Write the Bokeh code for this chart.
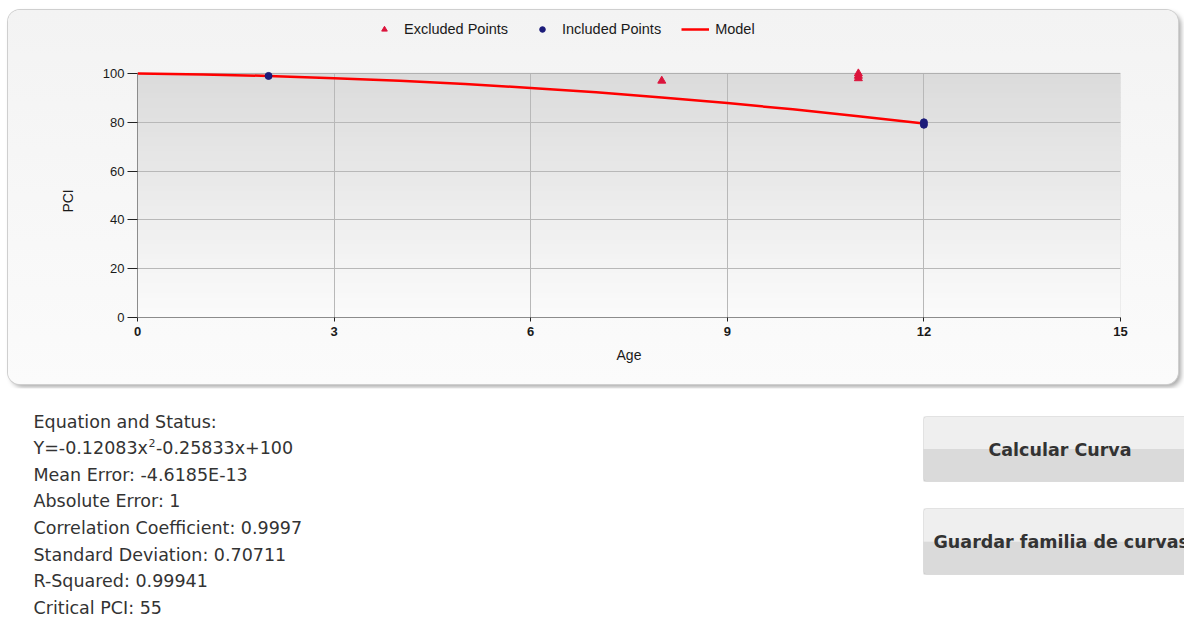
from bokeh.plotting import figure
from bokeh.layouts import column
from bokeh.models import Range1d, FixedTicker, Label, BoxAnnotation, Legend, LegendItem
from bokeh.embed import file_html
from bokeh.resources import INLINE

# ---- data ----
excluded_age = [8, 11, 11, 11]
excluded_pci = [97, 100, 99, 98]
included_age = [2, 12, 12]
included_pci = [99, 79, 80]
model_age = [0, 1, 2, 3, 4, 5, 6, 7, 8, 9, 10, 11, 12]
model_pci = [100, 99.6, 99.0, 98.1, 97.0, 95.7, 94.1, 92.3, 90.2, 87.9, 85.3, 82.5, 79.5]
x_ticks = [0, 3, 6, 9, 12, 15]
y_ticks = [0, 20, 40, 60, 80, 100]
legend_labels = ["Excluded Points", "Included Points", "Model"]
x_title = "Age"
y_title = "PCI"
eq_parts = ["Y=-0.12083x", "2", "-0.25833x+100"]
stats_lines = ["Equation and Status:", None, "Mean Error: -4.6185E-13", "Absolute Error: 1",
               "Correlation Coefficient: 0.9997", "Standard Deviation: 0.70711",
               "R-Squared: 0.99941", "Critical PCI: 55"]
button_labels = ["Calcular Curva", "Guardar familia de curvas"]

W, H = 1184, 618
# chart panel (page pixels)
PL, PT, PR, PB = 8, 10, 1178, 384
# plot area (page pixels)
FL, FR, FT, FB = 137, 1120, 73, 317
X0, X1, Y0, Y1 = 0, 15, 0, 100
y_per_px = (Y1 - Y0) / (FB - FT)
y_top = Y1 + (FT - PT) * y_per_px   # frame extends up to the panel top (legend area)

A = figure(width=PR - PL, height=PB - PT, x_range=Range1d(X0, X1), y_range=Range1d(Y0, y_top),
           output_backend="svg", toolbar_location=None,
           min_border_left=FL - PL, min_border_right=PR - FR, min_border_top=0, min_border_bottom=PB - FB,
           background_fill_alpha=0, border_fill_alpha=0, outline_line_color=None,
           margin=(PT, 0, 4, PL),
           styles={"border-radius": "12px", "overflow": "hidden",
                   "box-shadow": "0 0 0 1px #cfcfcf, 3px 3px 5px rgba(0,0,0,0.35)",
                   "background": "linear-gradient(180deg, #f3f3f3 0%, #fbfbfb 100%)"})

# gradient plot background
deco = []
N = 50
for i in range(N):
    t = (i + 0.5) / N
    c = int(round(251 - (251 - 219) * t))
    deco.append(BoxAnnotation(bottom=Y1 * i / N, top=Y1 * (i + 1) / N + 0.3,
                              fill_color="#%02x%02x%02x" % (c, c, c), fill_alpha=1,
                              line_color=None, level="underlay"))

# data
r_line = A.line(model_age, model_pci, line_color="#ff0000", line_width=2.5)
r_exc = A.scatter(excluded_age, excluded_pci, marker="triangle", size=8,
                  fill_color="#dc143c", line_color="#dc143c")
r_inc = A.scatter(included_age, included_pci, marker="circle", size=7,
                  fill_color="#1c1c7a", line_color="#1c1c7a")

# axes
A.xaxis.ticker = FixedTicker(ticks=x_ticks)
A.yaxis.ticker = FixedTicker(ticks=y_ticks)
A.yaxis.bounds = (Y0, Y1)
A.xgrid.ticker = FixedTicker(ticks=x_ticks)
A.ygrid.ticker = FixedTicker(ticks=y_ticks)
A.grid.grid_line_color = "#b8b8b8"
A.grid.grid_line_width = 1
has_cross = "cross_bounds" in A.xgrid[0].properties()
if has_cross:
    A.xgrid.cross_bounds = (Y0, Y1)
A.axis.minor_tick_line_color = None
A.axis.axis_line_color = "#8c8c8c"
A.axis.major_tick_line_color = "#222222"
A.axis.major_label_text_font = "Liberation Sans"
A.axis.major_label_text_font_size = "13px"
A.axis.major_label_text_color = "#1a1a1a"
A.xaxis.major_label_text_font_style = "bold"
A.xaxis.major_tick_out = 4
A.xaxis.major_tick_in = 0
A.xaxis.major_label_standoff = 5
A.yaxis.major_tick_out = 10
A.yaxis.major_tick_in = 0
A.yaxis.major_label_standoff = 3
A.xaxis.axis_label = x_title
# the y title is centred on the whole frame (which reaches up to the legend);
# trailing no-break spaces move the visible word down to the plot-area centre
A.yaxis.axis_label = y_title + "\u00a0" * 19
A.axis.axis_label_text_font = "Liberation Sans"
A.axis.axis_label_text_font_size = "14px"
A.axis.axis_label_text_font_style = "normal"
A.axis.axis_label_text_color = "#1a1a1a"
A.xaxis.axis_label_standoff = 8
A.yaxis.axis_label_standoff = 24

post = []
if not has_cross:
    post.append(BoxAnnotation(bottom=Y1, fill_color="#f4f4f4", fill_alpha=1, line_color=None, level="underlay"))
# plot-area border
post.append(BoxAnnotation(left=X0, right=X1, bottom=Y0, top=Y1, fill_alpha=0,
                          line_color="#a0a0a0", line_width=1, level="underlay"))

# legend (location = bottom-left corner, frame-relative pixels)
legend = Legend(items=[LegendItem(label=legend_labels[0], renderers=[r_exc]),
                       LegendItem(label=legend_labels[1], renderers=[r_inc]),
                       LegendItem(label=legend_labels[2], renderers=[r_line])],
                location=(370 - FL, FB - 37), orientation="horizontal",
                label_text_font="Liberation Sans", label_text_font_size="14.5px",
                label_text_color="#1a1a1a", glyph_width=28, glyph_height=14,
                label_standoff=6, spacing=20, padding=0, margin=0,
                border_line_color=None, background_fill_alpha=0)
A.add_layout(legend)
A.center = deco + list(A.center) + post

# ---- lower part: stats text and buttons ----
BT_TOP = PB + 4
B = figure(width=W, height=H - BT_TOP, x_range=Range1d(0, 1), y_range=Range1d(0, 1),
           output_backend="svg", toolbar_location=None, x_axis_location=None, y_axis_location=None,
           min_border=0, outline_line_color=None, background_fill_color="white",
           border_fill_color="white")
B.grid.visible = False

if "frame_align" in B.properties():
    A.frame_align = False
    B.frame_align = False


def by(py):
    return H - py


TXT = dict(x_units="screen", y_units="screen", text_font="DejaVu Sans",
           text_color="#333333", text_baseline="middle", text_align="left")
for i, s in enumerate(stats_lines):
    yc = 421 + i * 26.65
    if s is None:
        B.add_layout(Label(x=33, y=by(yc), text=eq_parts[0], text_font_size="17.5px", **TXT))
        B.add_layout(Label(x=148, y=by(yc - 5), text=eq_parts[1], text_font_size="11px", **TXT))
        B.add_layout(Label(x=155.5, y=by(yc), text=eq_parts[2], text_font_size="17.5px", **TXT))
    else:
        B.add_layout(Label(x=33, y=by(yc), text=s, text_font_size="17.5px", **TXT))

SCR = dict(left_units="screen", right_units="screen", top_units="screen", bottom_units="screen")
for top, bot in [(416, 481), (508, 574)]:
    mid = (top + bot) / 2
    B.add_layout(BoxAnnotation(left=923, right=1210, top=by(top), bottom=by(mid),
                               fill_color="#efefef", fill_alpha=1, line_color=None, **SCR))
    B.add_layout(BoxAnnotation(left=923, right=1210, top=by(mid), bottom=by(bot),
                               fill_color="#dadada", fill_alpha=1, line_color=None, **SCR))
    B.add_layout(BoxAnnotation(left=923, right=1210, top=by(top), bottom=by(bot),
                               fill_alpha=0, line_color="#b4b4b4", line_width=1, border_radius=3, **SCR))
BTXT = dict(x_units="screen", y_units="screen", text_font="DejaVu Sans", text_font_style="bold",
            text_font_size="17.5px", text_color="#333333", text_baseline="middle")
B.add_layout(Label(x=1059.5, y=by(449), text=button_labels[0], text_align="center", **BTXT))
B.add_layout(Label(x=933, y=by(541), text=button_labels[1], text_align="left", **BTXT))

page = column(A, B, spacing=0)
open("out.html", "w").write(file_html(page, INLINE))
